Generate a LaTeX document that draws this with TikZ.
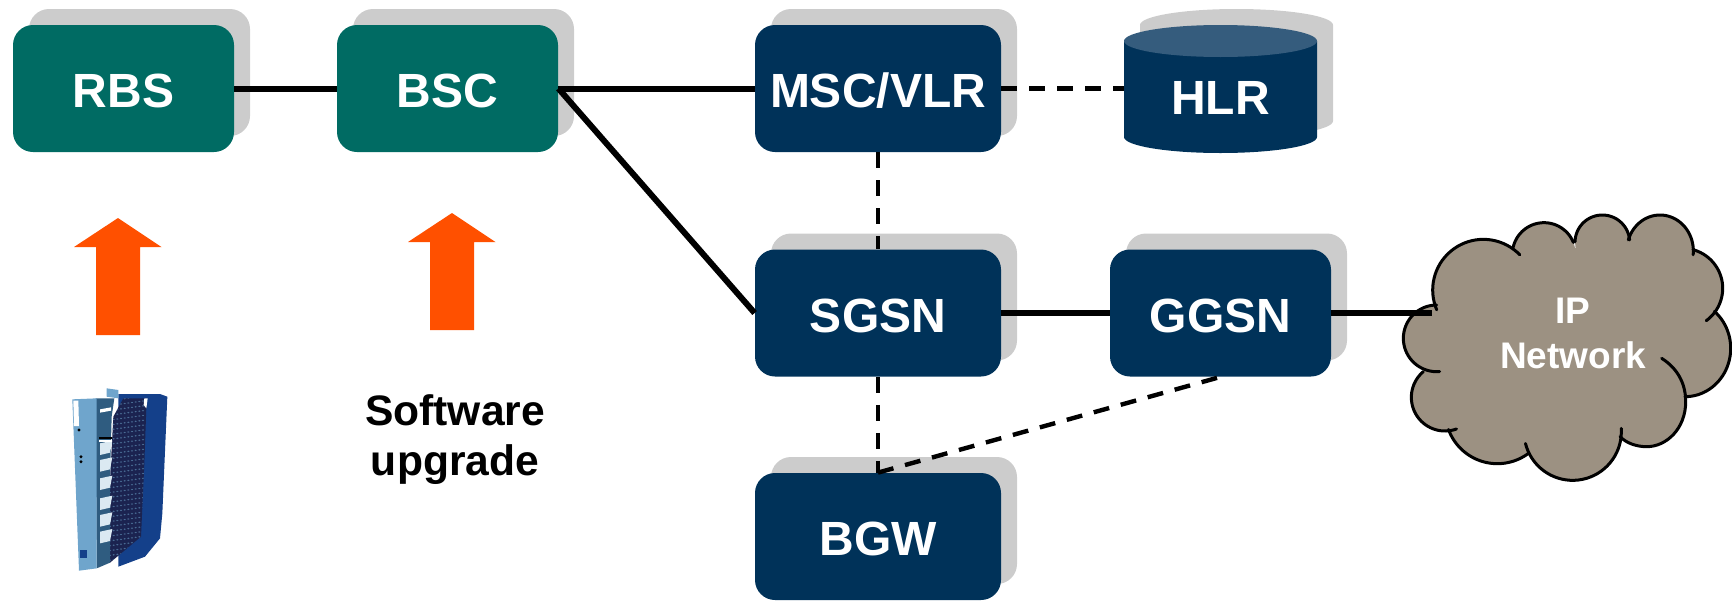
\documentclass[tikz,border=0pt]{standalone}
\usepackage{fontspec}
\setmainfont{Liberation Sans}
\usetikzlibrary{shadows}
\definecolor{navybox}{HTML}{003259}
\definecolor{tealbox}{HTML}{006B63}
\definecolor{shadowgray}{HTML}{CCCCCC}
\definecolor{cyltop}{HTML}{355C7D}
\definecolor{arroworange}{HTML}{FF5000}
\definecolor{cloudfill}{HTML}{9C9182}
\definecolor{photolight}{HTML}{6FA5CC}
\definecolor{photomid}{HTML}{2F5C80}
\definecolor{photonavy}{HTML}{14408A}
\definecolor{photomesh}{HTML}{1B2350}
\tikzset{
  boxbase/.style={rounded corners=10pt,minimum height=63.5pt,text=white,inner sep=0pt,
    font=\fontsize{24}{28}\selectfont\bfseries,text height=19.2pt,text depth=0pt,
    copy shadow={shadow xshift=8pt,shadow yshift=8pt,fill=shadowgray,draw=none}},
  tealnode/.style={boxbase,fill=tealbox,minimum width=110.5pt},
  navynode/.style={boxbase,fill=navybox,minimum width=123pt},
  gnode/.style={boxbase,fill=navybox,minimum width=110.5pt},
  solidlink/.style={line width=3pt,black},
  dashlink/.style={line width=2.2pt,black,dash pattern=on 8pt off 6pt},
  upgrade/.style={fill=arroworange},
  lobe/.style={line width=1.5pt,black,line cap=round,line join=round}
}
% one cloud lobe: centre x, x radius, centre y, y radius, start angle, end angle
\newcommand{\lobefill}[6]{\fill[cloudfill] (#1,#3) ellipse[x radius=#2,y radius=#4];}
\newcommand{\lobeline}[6]{\draw[lobe] plot[domain=#5:#6,samples=36,variable=\t] ({#1+#2*cos(\t)},{#3+#4*sin(\t)});}
\newcommand{\alllobes}[1]{%
 #1{280}{152}{255}{152}{157}{316}
 #1{462}{95}{148}{95}{193}{338}
 #1{637}{82}{112}{82}{181}{355}
 #1{810}{100}{138}{108}{198}{366}
 #1{878}{120}{250}{120}{285}{414}
 #1{885}{137}{430}{145}{-50}{90}
 #1{548}{146}{680}{146}{-4}{166}
 #1{322}{156}{620}{156}{53}{160}
 #1{165}{101}{577}{101}{70}{230}
 #1{140}{100}{400}{100}{85}{270}
}
\begin{document}
\begin{tikzpicture}[x=0.5pt,y=-0.5pt]
\useasboundingbox (0,0) rectangle (1732,600);
% boxes
\node[tealnode] (rbs) at (123.5,88.5) {RBS};
\node[tealnode] (bsc) at (447.5,88.5) {BSC};
\node[navynode] (msc) at (878,88.5) {MSC/VLR};
\node[navynode] (sgsn) at (878,313) {SGSN};
\node[gnode] (ggsn) at (1220.5,313) {GGSN};
\node[navynode] (bgw) at (878,536.5) {BGW};
% HLR cylinder
\fill[shadowgray] (1140,25) arc[start angle=180,end angle=0,x radius=96.5,y radius=-16]
  -- (1333,121) arc[start angle=0,end angle=-180,x radius=96.5,y radius=-16] -- cycle;
\fill[navybox] (1124,41) -- (1124,137) arc[start angle=180,end angle=360,x radius=96.5,y radius=-16]
  -- (1317,41) -- cycle;
\fill[cyltop] (1220.5,41) ellipse[x radius=96.5,y radius=16];
\node[text=white,font=\fontsize{24}{28}\selectfont\bfseries,inner sep=0pt,minimum width=96.5pt,minimum height=28pt] (hlr) at (1220.5,98) {HLR};
% connectors
\draw[solidlink] (rbs.east) -- (bsc.west);
\draw[solidlink] (bsc.east) -- (msc.west);
\draw[solidlink] (bsc.east) -- (sgsn.west);
\draw[solidlink] (sgsn.east) -- (ggsn.west);
\draw[dashlink] (msc.east) -- (hlr.west |- msc.east);
\draw[dashlink] (msc.south) -- (sgsn.north);
\draw[dashlink] (sgsn.south) -- (bgw.north);
\draw[dashlink] (bgw.north) -- (ggsn.south);
% cloud
\begin{scope}[shift={(1390,205)},x=0.16667pt,y=-0.16667pt]
  \fill[cloudfill] (280,255)--(462,148)--(637,112)--(810,138)--(878,250)--(885,430)--(770,600)--(548,680)--(322,620)--(165,577)--(140,400)--cycle;
  \alllobes{\lobefill}
  \fill[cloudfill] (765,600) circle[radius=120];
  \fill[cloudfill] (815,460) .. controls (870,495) and (887,545) .. (887,590) .. controls (887,670) and (830,725) .. (770,725) .. controls (740,725) and (710,715) .. (690,695) -- cycle;
  \alllobes{\lobeline}
  \draw[lobe] (815,460) .. controls (870,495) and (887,545) .. (887,590) .. controls (887,670) and (830,725) .. (770,725) .. controls (740,725) and (710,715) .. (690,695);
\end{scope}
\node[text=white,align=center,inner sep=0pt,font=\fontsize{18.5}{22.5}\selectfont\bfseries] (ipnet) at (1573,333.5) {IP\\Network};
\coordinate (cloudin) at (1432,313);
\draw[solidlink] (ggsn.east) -- (cloudin);
% arrows
\fill[upgrade] (118,218) -- (161.5,247) -- (140,247) -- (140,335) -- (96,335) -- (96,247) -- (74,247) -- cycle;
\fill[upgrade] (452,213) -- (495.5,242) -- (474,242) -- (474,330) -- (430,330) -- (430,242) -- (408,242) -- cycle;
\node[align=center,inner sep=0pt,font=\fontsize{21.3}{25}\selectfont\bfseries] (sw) at (455,439.5) {Software\\upgrade};
% RBS photograph
\begin{scope}[shift={(55,380)},x=0.16667pt,y=-0.16667pt]
  \fill[photonavy] (190,42) -- (315,42) -- (337,50) -- (322,400) -- (315,475) -- (270,530) -- (190,560) -- cycle;
  \begin{scope}
  \clip (205,55) -- (275,55) -- (268,250) -- (258,470) -- (165,548) -- (165,300) -- (175,110) -- cycle;
  \fill[photomesh] (150,40) rectangle (290,560);
  \foreach \r in {0,...,34}{
    \foreach \c in {0,...,9}{
      \fill[photolight!55!photomesh] ({165+\c*11},{62+\r*14.5-\c*1.5}) ellipse[x radius=3.5,y radius=2.2];
    }
  }
  \end{scope}
  \fill[photomid] (122,55) -- (178,55) -- (170,110) -- (165,300) -- (165,548) -- (125,565) -- cycle;
  \fill[photolight] (52,58) -- (125,55) -- (125,565) -- (72,572) -- cycle;
  \fill[photolight] (155,25) -- (190,30) -- (190,55) -- (155,50) -- cycle;
  \fill[white] (55,62) -- (70,62) -- (72,138) -- (57,138) -- cycle;
  \fill[white] (268,55) -- (278,55) -- (274,85) -- (266,75) -- cycle;
  \foreach \y in {190,240,295,355,405,455}{
    \fill[white!75!photolight] (135,\y) -- (172,\y-8) -- (165,\y+28) -- (135,\y+35) -- cycle;
  }
  \fill[black] (132,172) rectangle (170,178);
  \fill[white] (132,180) rectangle (170,186);
  \fill[black] (72,150) circle[radius=5];
  \fill[black] (78,230) circle[radius=5];
  \fill[black] (78,245) circle[radius=5];
  \fill[photonavy] (75,510) rectangle (95,535);
  \fill[white] (135,88) -- (168,82) -- (168,92) -- (135,98) -- cycle;
\end{scope}
\end{tikzpicture}
\end{document}
